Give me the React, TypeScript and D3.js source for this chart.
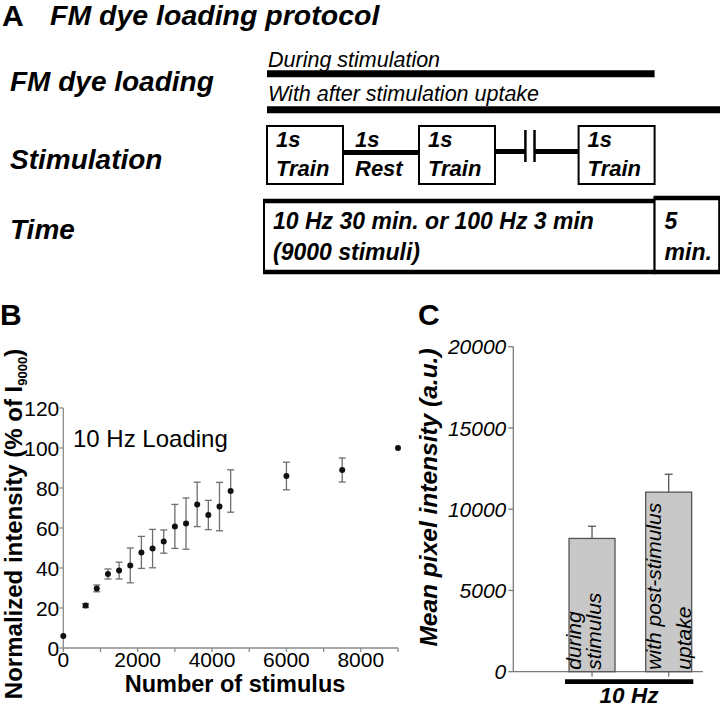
import React from 'react';
import * as d3 from 'd3';

const FONT = '"Liberation Sans", Arial, Helvetica, sans-serif';

// ---- Panel A: protocol schematic (timeline units, 1 unit = one 1 s train box) ----
const loadingPhases = ['During stimulation', 'With after stimulation uptake'];
const loadingPhaseEnds = [5.1, 6.2];
const stimSegmentKinds = ['train', 'rest', 'train', 'gap', 'train'];
const stimSegmentStarts = [0, 1, 2, 3, 4.1];
const stimSegmentEnds = [1, 2, 3, 4.1, 5.1];
const timeBlockLines = [['10 Hz 30 min. or 100 Hz 3 min', '(9000 stimuli)'], ['5', 'min.']];
const timeBlockStarts = [0, 5.1];
const timeBlockEnds = [5.1, 5.95];

// ---- Panel B: 10 Hz loading time course ----
const stimulusCounts = [0, 600, 900, 1200, 1500, 1800, 2100, 2400, 2700, 3000, 3300, 3600, 3900, 4200, 4500, 6000, 7500, 9000];
const normalizedIntensity = [6.0, 21.2, 29.8, 37.0, 38.7, 41.3, 47.8, 49.7, 53.2, 60.8, 62.2, 71.8, 66.5, 70.7, 78.5, 86.0, 89.0, 100];
const intensitySem = [0, 1.0, 1.7, 2.5, 4.2, 8.7, 8.0, 9.6, 5.8, 11.0, 12.8, 11.1, 7.3, 12.1, 10.6, 6.9, 6.0, 0];
const bYTicks = [0, 20, 40, 60, 80, 100, 120];
const bXTicks = [0, 1000, 2000, 3000, 4000, 5000, 6000, 7000, 8000, 9000];
const bXLabels = [0, 2000, 4000, 6000, 8000];

// ---- Panel C: mean pixel intensity ----
const uptakeConditions = ['during stimulus', 'with post-stimulus uptake'];
const conditionLabelLines = [['during', 'stimulus'], ['with post-stimulus', 'uptake']];
const meanPixelIntensity = [8200, 11050];
const pixelIntensitySem = [750, 1100];
const cYTicks = [0, 5000, 10000, 15000, 20000];

function ProtocolPanel() {
  const tl = d3.scaleLinear().domain([0, 6]).range([267, 723]);
  const boldItalic = { fontFamily: FONT, fontWeight: 700, fontStyle: 'italic' } as const;
  const boxTop = 126;
  const boxBottom = 184;
  const restY = 152.5;
  const breakA = tl(3.4);
  const breakB = tl(3.52);

  return (
    <g>
      <text x={2} y={26} style={{ fontFamily: FONT, fontWeight: 700, fontSize: 30 }}>A</text>
      <text x={50} y={25} style={{ ...boldItalic, fontSize: 28.5 }}>FM dye loading protocol</text>

      <text x={10} y={91} style={{ ...boldItalic, fontSize: 28 }}>FM dye loading</text>
      <text x={10} y={169} style={{ ...boldItalic, fontSize: 28 }}>Stimulation</text>
      <text x={10} y={239} style={{ ...boldItalic, fontSize: 28 }}>Time</text>

      {loadingPhases.map((label, i) => (
        <g key={label}>
          <text x={tl(0) + 1} y={66.5 + i * 34} style={{ fontFamily: FONT, fontStyle: 'italic', fontSize: 21.5 }}>{label}</text>
          <line x1={tl(0)} x2={tl(loadingPhaseEnds[i])} y1={73.7 + i * 36} y2={73.7 + i * 36} stroke="#000" strokeWidth={7} />
        </g>
      ))}

      {stimSegmentKinds.map((kind, i) => {
        const x0 = tl(stimSegmentStarts[i]);
        const x1 = tl(stimSegmentEnds[i]);
        if (kind === 'train') {
          return (
            <g key={i}>
              <rect x={x0} y={boxTop} width={x1 - x0} height={boxBottom - boxTop} fill="#fff" stroke="#000" strokeWidth={2} />
              <text x={x0 + 9} y={147} style={{ ...boldItalic, fontSize: 22 }}>1s</text>
              <text x={x0 + 9} y={176} style={{ ...boldItalic, fontSize: 22 }}>Train</text>
            </g>
          );
        }
        if (kind === 'rest') {
          return (
            <g key={i}>
              <line x1={x0} x2={x1} y1={restY} y2={restY} stroke="#000" strokeWidth={5} />
              <text x={x0 + 12} y={147} style={{ ...boldItalic, fontSize: 22 }}>1s</text>
              <text x={x0 + 12} y={176} style={{ ...boldItalic, fontSize: 22 }}>Rest</text>
            </g>
          );
        }
        return (
          <g key={i}>
            <line x1={x0} x2={breakA} y1={restY - 1} y2={restY - 1} stroke="#000" strokeWidth={5} />
            <line x1={breakB} x2={x1} y1={restY - 1} y2={restY - 1} stroke="#000" strokeWidth={5} />
            <line x1={breakA} x2={breakA} y1={130} y2={162} stroke="#000" strokeWidth={2.5} />
            <line x1={breakB} x2={breakB} y1={130} y2={162} stroke="#000" strokeWidth={2.5} />
          </g>
        );
      })}

      {timeBlockLines.map((lines, i) => {
        const x0 = tl(timeBlockStarts[i]) - (i === 0 ? 3 : 0);
        const x1 = tl(timeBlockEnds[i]);
        const top = i === 0 ? 201 : 198;
        return (
          <g key={i}>
            <rect x={x0} y={top} width={x1 - x0} height={272 - top} fill="#fff" stroke="#000" strokeWidth={2} />
            <line x1={x0 - 1} x2={x1 + 1} y1={top} y2={top} stroke="#000" strokeWidth={4.5} />
            <line x1={x0 - 1} x2={x1 + 1} y1={272} y2={272} stroke="#000" strokeWidth={4.5} />
            {lines.map((ln, j) => (
              <text key={j} x={x0 + (i === 0 ? 9 : 10)} y={228.5 + j * 31.5} style={{ ...boldItalic, fontSize: 23 }}>{ln}</text>
            ))}
          </g>
        );
      })}
    </g>
  );
}

function LoadingTimeCourse() {
  const x = d3.scaleLinear().domain([0, 9000]).range([63.3, 398]);
  const y = d3.scaleLinear().domain([0, 120]).range([648, 408]);
  const axisColor = '#8a8a8a';
  const barColor = '#6e6e6e';
  const x0 = x(0);
  const y0 = y(0);

  return (
    <g>
      <text x={0} y={325} style={{ fontFamily: FONT, fontWeight: 700, fontSize: 30 }}>B</text>

      <line x1={x0} x2={x0} y1={y0} y2={y(120)} stroke={axisColor} strokeWidth={1.3} />
      <line x1={x0} x2={x(9000)} y1={y0} y2={y0} stroke={axisColor} strokeWidth={1.3} />
      {bYTicks.map(t => (
        <g key={t}>
          <line x1={x0 - 4} x2={x0} y1={y(t)} y2={y(t)} stroke={axisColor} strokeWidth={1.3} />
          <text x={x0 - 4} y={y(t)} dy="0.36em" textAnchor="end" style={{ fontFamily: FONT, fontSize: 21 }}>{t}</text>
        </g>
      ))}
      {bXTicks.map(t => (
        <line key={t} x1={x(t)} x2={x(t)} y1={y0} y2={y0 + 4} stroke={axisColor} strokeWidth={1.3} />
      ))}
      {bXLabels.map(t => (
        <text key={t} x={x(t)} y={y0 + 19} textAnchor="middle" style={{ fontFamily: FONT, fontSize: 21 }}>{t}</text>
      ))}

      <text x={73} y={447} style={{ fontFamily: FONT, fontSize: 24 }}>10 Hz Loading</text>

      {stimulusCounts.map((s, i) => {
        const cx = x(s);
        const err = intensitySem[i];
        return (
          <g key={s}>
            {err > 0 && (
              <g stroke={barColor} strokeWidth={1.3}>
                <line x1={cx} x2={cx} y1={y(normalizedIntensity[i] + err)} y2={y(normalizedIntensity[i] - err)} />
                <line x1={cx - 3.5} x2={cx + 3.5} y1={y(normalizedIntensity[i] + err)} y2={y(normalizedIntensity[i] + err)} />
                <line x1={cx - 3.5} x2={cx + 3.5} y1={y(normalizedIntensity[i] - err)} y2={y(normalizedIntensity[i] - err)} />
              </g>
            )}
            <circle cx={cx} cy={y(normalizedIntensity[i])} r={3} fill="#111" />
          </g>
        );
      })}

      <text x={235} y={692} textAnchor="middle" style={{ fontFamily: FONT, fontWeight: 700, fontSize: 23.5 }}>Number of stimulus</text>
      <text transform={`translate(22, ${524}) rotate(-90)`} textAnchor="middle" style={{ fontFamily: FONT, fontWeight: 700, fontSize: 24 }}>
        Normalized intensity (% of I<tspan dy="5" style={{ fontSize: 13 }}>9000</tspan><tspan dy="-5">)</tspan>
      </text>
    </g>
  );
}

function PixelIntensityBars() {
  const y = d3.scaleLinear().domain([0, 20000]).range([671.7, 346.7]);
  const x = d3.scaleBand().domain(uptakeConditions).range([553.7, 707]).paddingInner(0.4).paddingOuter(0.2);
  const axisColor = '#7a7a7a';
  const axisX = 513.3;
  const y0 = y(0);
  const textOffsets = [[-11, 9], [-7.5, 22.5]];

  return (
    <g>
      <text x={418} y={325} style={{ fontFamily: FONT, fontWeight: 700, fontSize: 30 }}>C</text>

      <line x1={axisX} x2={axisX} y1={y0} y2={y(20000)} stroke={axisColor} strokeWidth={1.3} />
      <line x1={axisX} x2={703} y1={y0} y2={y0} stroke={axisColor} strokeWidth={1.3} />
      {cYTicks.map(t => (
        <g key={t}>
          <line x1={axisX - 5} x2={axisX} y1={y(t)} y2={y(t)} stroke={axisColor} strokeWidth={1.3} />
          <text x={axisX - 7} y={y(t)} dy="0.36em" textAnchor="end" style={{ fontFamily: FONT, fontStyle: 'italic', fontSize: 21 }}>{t}</text>
        </g>
      ))}

      {uptakeConditions.map((c, i) => {
        const bx = x(c) as number;
        const bw = x.bandwidth();
        const cx = bx + bw / 2;
        const top = y(meanPixelIntensity[i]);
        const errTop = y(meanPixelIntensity[i] + pixelIntensitySem[i]);
        return (
          <g key={c}>
            <line x1={cx} x2={cx} y1={y0} y2={y0 + 5} stroke={axisColor} strokeWidth={1.3} />
            <line x1={cx} x2={cx} y1={top} y2={errTop} stroke="#555" strokeWidth={1.3} />
            <line x1={cx - 4} x2={cx + 4} y1={errTop} y2={errTop} stroke="#555" strokeWidth={1.3} />
            <rect x={bx} y={top} width={bw} height={y0 - top} fill="#c8c8c8" stroke="#555" strokeWidth={1.3} />
            {conditionLabelLines[i].map((ln, j) => (
              <text key={j} transform={`translate(${cx + textOffsets[i][j]}, ${y0 - 2}) rotate(-90)`} style={{ fontFamily: FONT, fontStyle: 'italic', fontSize: 21 }}>{ln}</text>
            ))}
          </g>
        );
      })}

      <line x1={565} x2={693.3} y1={681.7} y2={681.7} stroke="#000" strokeWidth={4.7} />
      <text x={629} y={703} textAnchor="middle" style={{ fontFamily: FONT, fontWeight: 700, fontStyle: 'italic', fontSize: 22.5 }}>10 Hz</text>

      <text transform={`translate(437, 497.5) rotate(-90)`} textAnchor="middle" style={{ fontFamily: FONT, fontWeight: 700, fontStyle: 'italic', fontSize: 24.5 }}>
        Mean pixel intensity (a.u.)
      </text>
    </g>
  );
}

export default function App() {
  return (
    <svg width={720} height={708} style={{ position: 'absolute', left: 0, top: 0, background: '#fff' }}>
      <rect width={720} height={708} fill="#fff" />
      <ProtocolPanel />
      <LoadingTimeCourse />
      <PixelIntensityBars />
    </svg>
  );
}
